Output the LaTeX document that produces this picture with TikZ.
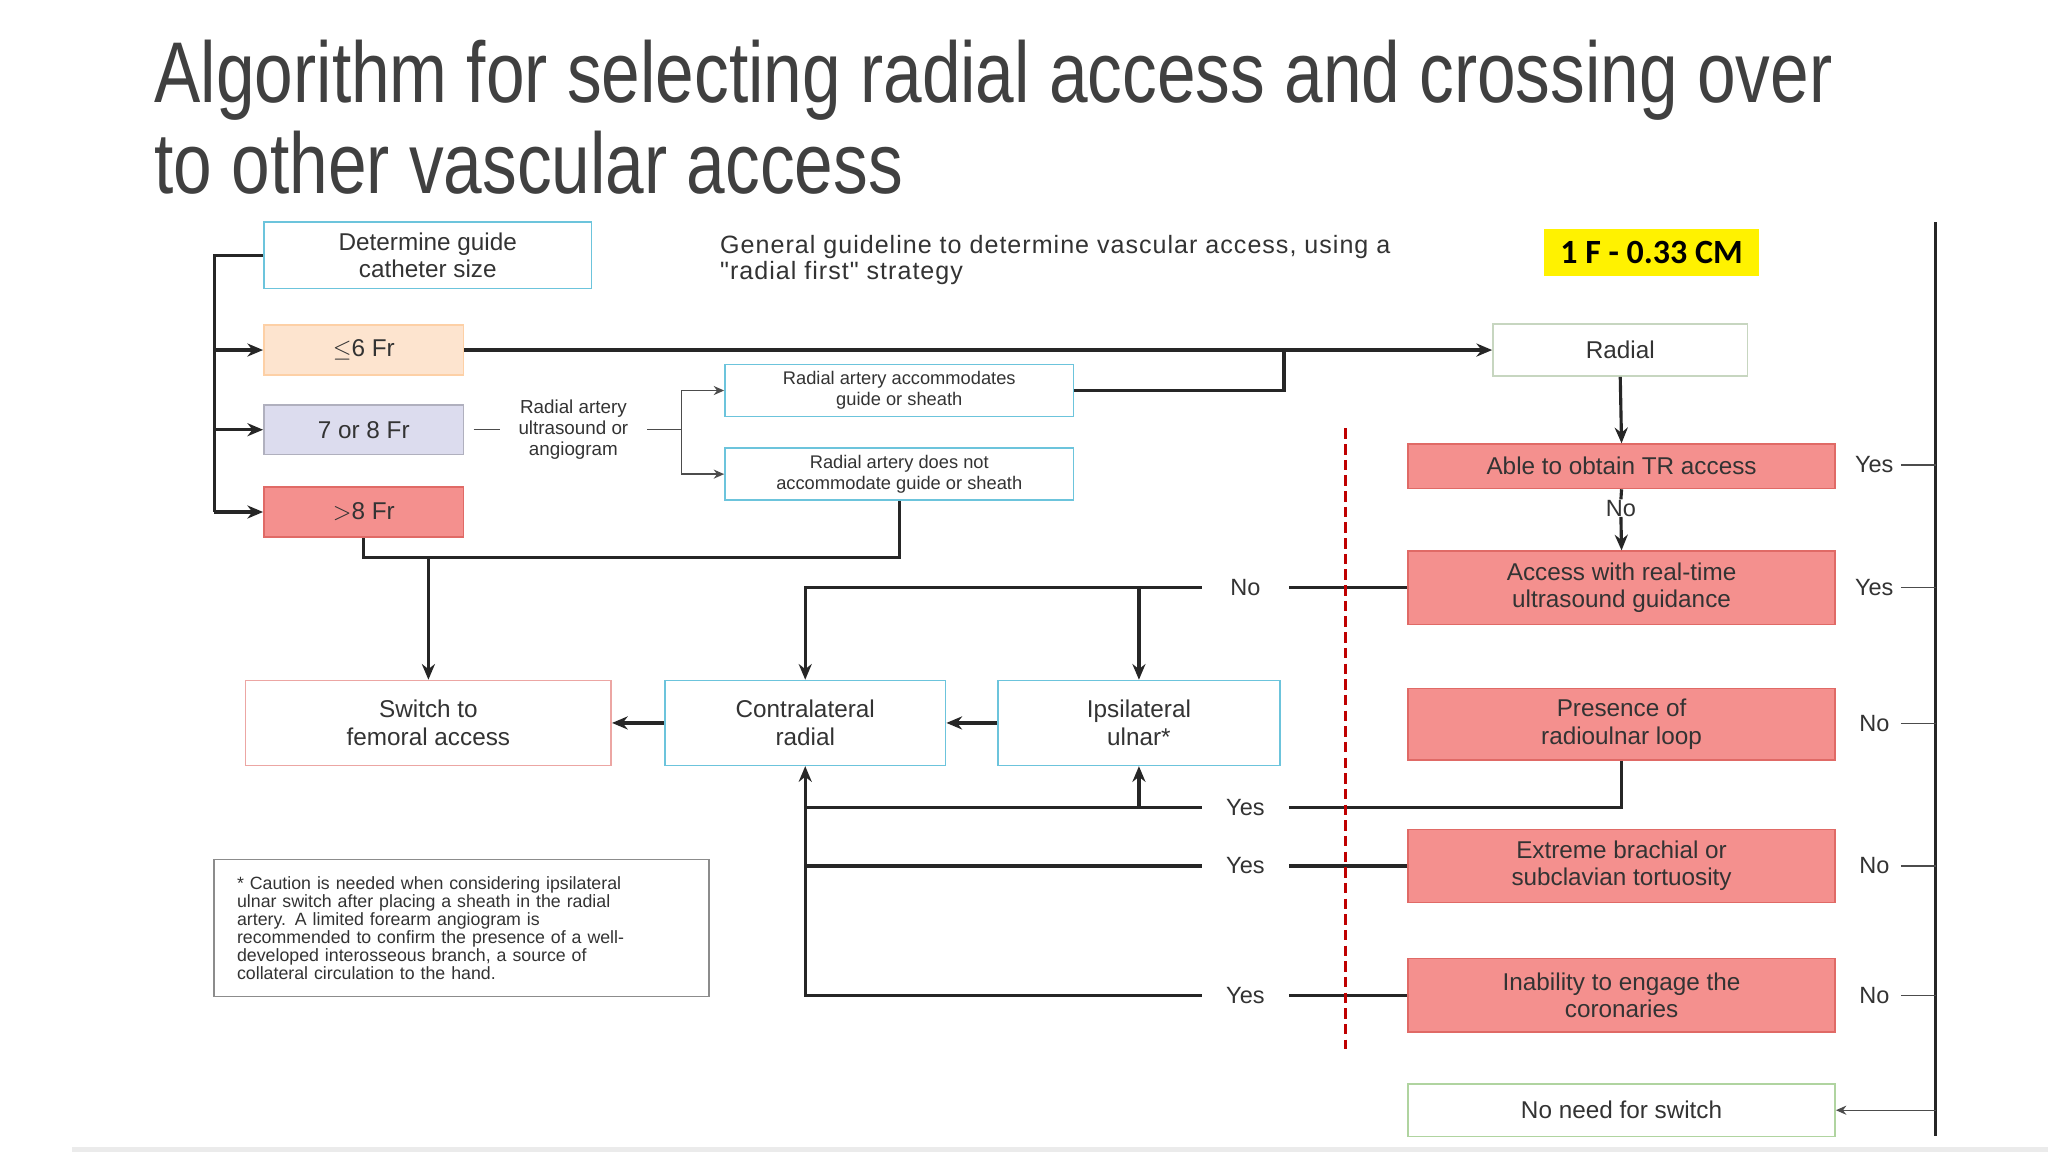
\documentclass[tikz,border=0pt]{standalone}
\usepackage{fontspec}
\setmainfont{Liberation Sans}
\newfontfamily\titlefont{Liberation Sans}[FakeStretch=0.805]
\newfontfamily\widefont{Liberation Sans}[LetterSpace=4]
\newfontfamily\calfont{Carlito}
\usetikzlibrary{arrows.meta}
\definecolor{cyanb}{HTML}{6CC4DC}
\definecolor{redf}{HTML}{F4908E}
\definecolor{redb}{HTML}{E06A66}
\definecolor{peach}{HTML}{FDE4CF}
\definecolor{lav}{HTML}{DCDCEE}
\definecolor{greenb}{HTML}{B0D4A0}
\definecolor{txt}{HTML}{333333}
\begin{document}
\begin{tikzpicture}[x=0.5pt,y=-0.5pt,
  base/.style={rectangle,draw,line width=0.6pt,align=center,inner sep=1pt,text=txt,font=\fontsize{9.3}{10.5}\selectfont},
  cbox/.style={base,draw=cyanb,fill=white},
  rbox/.style={base,draw=redb,fill=redf,minimum width=163.5pt},
  lbl/.style={text=txt,font=\fontsize{9}{10}\selectfont,inner sep=0pt},
  ln/.style={line width=1.2pt,black!85},
  tn/.style={line width=0.5pt,black!70},
  arr/.style={ln,-{Stealth[length=6pt,width=5pt]}},
  tarr/.style={tn,-{Stealth[length=4pt,width=3.5pt]}}]
\useasboundingbox (0,0) rectangle (1568,882);
\fill[white] (0,0) rectangle (1568,882);
\fill[black!8] (55,878) rectangle (1568,882);
% title
\node[anchor=north west,inner sep=0pt,text=black!75,align=left,font=\titlefont\fontsize{33}{35}\selectfont] (title) at (118,30)
 {Algorithm for selecting radial access and crossing over\\to other vascular access};
\node[anchor=west,inner sep=0pt,align=left,text=txt,font=\widefont\fontsize{9.6}{9.8}\selectfont] (hdr) at (551,199)
 {General guideline to determine vascular access, using a\\"radial first" strategy};
\node[fill=yellow,inner sep=2pt,minimum width=82.5pt,minimum height=18pt,font=\calfont\bfseries\fontsize{13}{14}\selectfont] (cm) at (1264.5,193) {1 F - 0.33 CM};
% left boxes
\node[cbox,minimum width=125.5pt,minimum height=25.5pt] (det) at (327.5,195.5) {Determine guide\\catheter size};
\node[base,draw=peach!80!orange,fill=peach,minimum width=76.5pt,minimum height=19pt] (le6) at (278.5,268) {$\leq$6 Fr};
\node[base,draw=lav!80!black,fill=lav,minimum width=76.5pt,minimum height=19pt] (f78) at (278.5,329) {7 or 8 Fr};
\node[base,draw=redb,fill=redf,minimum width=76.5pt,minimum height=19pt] (g8) at (278.5,392) {$>$8 Fr};
\node[lbl,align=center,inner sep=7pt,font=\fontsize{7.2}{8}\selectfont] (ultra) at (439,329) {Radial artery\\ultrasound or\\angiogram};
\node[cbox,minimum width=133.5pt,minimum height=20pt,font=\fontsize{7}{8}\selectfont] (ra) at (688.5,299) {Radial artery accommodates\\guide or sheath};
\node[cbox,minimum width=133.5pt,minimum height=20pt,font=\fontsize{7}{8}\selectfont] (rb) at (688.5,363) {Radial artery does not\\accommodate guide or sheath};
\node[base,draw=greenb!70!gray!60,fill=white,minimum width=97.5pt,minimum height=20pt] (radial) at (1240.5,268) {Radial};
% red column
\node[rbox,minimum height=17pt] (able) at (1241.5,357) {Able to obtain TR access};
\node[rbox,minimum height=28pt] (acc) at (1241.5,450) {Access with real-time\\ultrasound guidance};
\node[rbox,minimum height=27.5pt] (pres) at (1241.5,554.5) {Presence of\\radioulnar loop};
\node[rbox,minimum height=28pt] (ext) at (1241.5,663) {Extreme brachial or\\subclavian tortuosity};
\node[rbox,minimum height=28pt] (inab) at (1241.5,762) {Inability to engage the\\coronaries};
\node[base,draw=greenb,fill=white,minimum width=163.5pt,minimum height=20pt] (noneed) at (1241.5,850) {No need for switch};
% middle row
\node[base,draw=redb!60,fill=white,minimum width=140pt,minimum height=32.5pt] (sw) at (328,553.5) {Switch to\\femoral access};
\node[cbox,minimum width=107.5pt,minimum height=32.5pt] (contra) at (616.5,553.5) {Contralateral\\radial};
\node[cbox,minimum width=108pt,minimum height=32.5pt] (ipsi) at (872,553.5) {Ipsilateral\\ulnar*};
\node[base,draw=black!45,fill=white,minimum width=189.5pt,minimum height=52.5pt,text width=172pt,align=left,font=\fontsize{6.8}{6.9}\selectfont] (caut) at (353.5,710.5)
 {* Caution is needed when considering ipsilateral\\ulnar switch after placing a sheath in the radial\\artery. A limited forearm angiogram is\\recommended to confirm the presence of a well-\\developed interosseous branch, a source of\\collateral circulation to the hand.};
% labels
\node[lbl,minimum width=33pt] (no1) at (953.5,450) {No};
\node[lbl,minimum width=33pt] (yes1) at (953.5,618) {Yes};
\node[lbl,minimum width=33pt] (yes2) at (953.5,663) {Yes};
\node[lbl,minimum width=33pt] (yes3) at (953.5,762) {Yes};
\node[lbl] (noTR) at (1241,389) {No};
\node[lbl,minimum width=20pt] (ry1) at (1435,356) {Yes};
\node[lbl,minimum width=20pt] (ry2) at (1435,450) {Yes};
\node[lbl,minimum width=20pt] (rn1) at (1435,554) {No};
\node[lbl,minimum width=20pt] (rn2) at (1435,663) {No};
\node[lbl,minimum width=20pt] (rn3) at (1435,762) {No};
% coordinates
\coordinate (lt) at (164,195.5);
\coordinate (sp) at (522,329);
\coordinate (j983) at (983,268);
\coordinate (jb) at (278.5,427);
\coordinate (rtT) at (1482,170);
\coordinate (rtB) at (1482,870);
\coordinate (dT) at (1030,328);
\coordinate (dB) at (1030,803);
% left trunk
\draw[ln] (det.west) -- (lt) -- (lt |- g8.west);
\draw[arr] (lt |- le6.west) -- (le6.west);
\draw[arr] (lt |- f78.west) -- (f78.west);
\draw[arr] (lt |- g8.west) -- (g8.west);
\draw[arr] (le6.east) -- (radial.west);
\draw[tn] (f78.east) ++(7,0) -- (ultra.west);
\draw[tn] (ultra.east) -- (sp);
\draw[tarr] (sp) |- (ra.west);
\draw[tarr] (sp) |- (rb.west);
\draw[ln] (ra.east) -| (j983);
\draw[ln] (rb.south) |- (jb) -- (g8.south);
\draw[arr] (jb -| sw.north) -- (sw.north);
\draw[arr] (contra.west) -- (sw.east);
\draw[arr] (ipsi.west) -- (contra.east);
% right column
\draw[arr] (radial.south) -- (able.north);
\draw[ln] (able.south) -- (noTR.north);
\draw[arr] (noTR.south) -- (acc.north);
\draw[ln] (acc.west) -- (no1.east);
\draw[arr] (no1.west) -| (contra.north);
\draw[arr] (no1.west -| ipsi.north) -- (ipsi.north);
\draw[ln] (pres.south) |- (yes1.east);
\draw[arr] (yes1.west) -| (contra.south);
\draw[arr] (yes1.west -| ipsi.south) -- (ipsi.south);
\draw[ln] (ext.west) -- (yes2.east);
\draw[ln] (yes2.west) -- (yes2.west -| contra.south);
\draw[ln] (inab.west) -- (yes3.east);
\draw[ln] (yes3.west) -| (yes1.west -| contra.south);
\draw[line width=1.2pt,red!75!black,dash pattern=on 4pt off 2pt] (dT) -- (dB);
\draw[ln] (rtT) -- (rtB);
\foreach \n in {ry1,ry2,rn1,rn2,rn3} \draw[tn] (\n.east) -- (\n.east -| rtT);
\draw[tarr] (noneed.east -| rtT) -- (noneed.east);
\end{tikzpicture}
\end{document}
